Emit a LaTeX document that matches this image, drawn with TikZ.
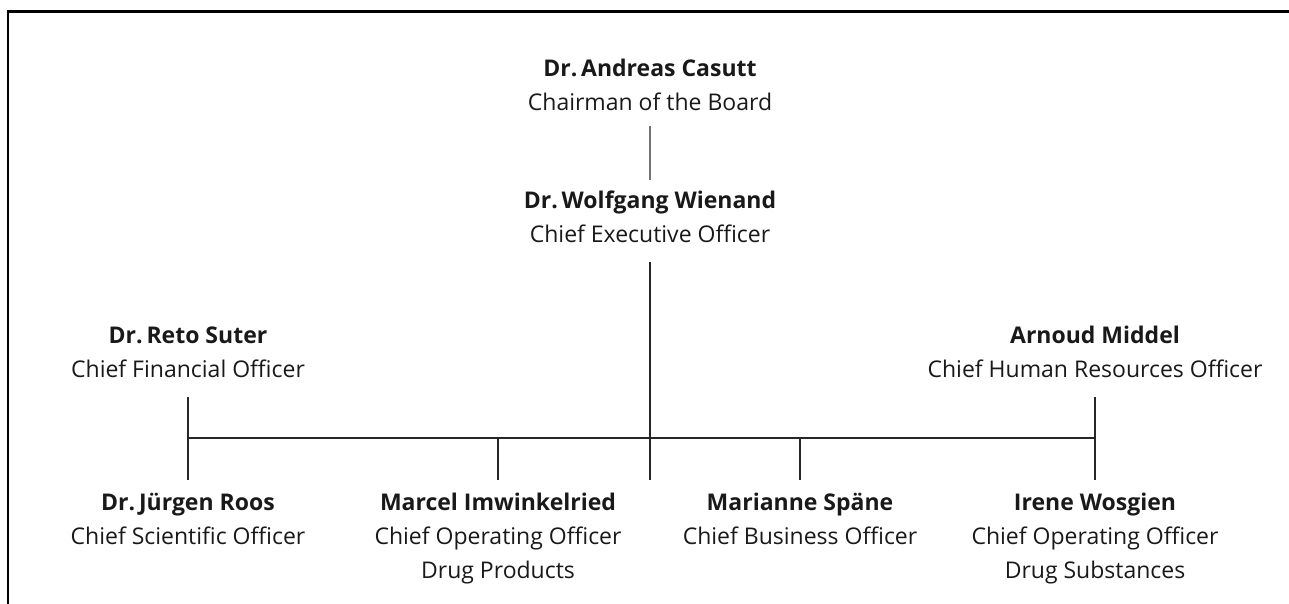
\documentclass[tikz,border=0pt]{standalone}
\usepackage{fontspec}
\setmainfont{Open Sans}
\begin{document}
\begin{tikzpicture}[x=1pt,y=-1pt,
  person/.style={inner sep=0pt,outer sep=0pt,anchor=base,text=black!90,
    font=\fontsize{23}{34}\selectfont},
  link/.style={draw=black!85,line width=1.3pt},
  softlink/.style={draw=black!55,line width=1.3pt},
  frame/.style={draw=black,line width=2.7pt}]
\useasboundingbox (0,0) rectangle (1289,604);
\newcommand{\pp}[2]{\begin{tabular}[t]{@{}c@{}}\textbf{#1}\\#2\end{tabular}}
\draw[frame] (8,604) -- (8,11.3) -- (1289,11.3);

\node[person] (casutt) at (650,77) {\pp{Dr.\,Andreas Casutt}{Chairman of the Board}};
\node[person] (wienand) at (650,208) {\pp{Dr.\,Wolfgang Wienand}{Chief Executive Officer}};
\node[person] (suter) at (188,343) {\pp{Dr.\,Reto Suter}{Chief Financial Officer}};
\node[person] (middel) at (1095,343) {\pp{Arnoud Middel}{Chief Human Resources Officer}};
\node[person] (roos) at (188,510) {\pp{Dr.\,Jürgen Roos}{Chief Scientific Officer}};
\node[person] (imwink) at (498,510) {\pp{Marcel Imwinkelried}{Chief Operating Officer\\Drug Products}};
\node[person] (spaene) at (800,510) {\pp{Marianne Späne}{Chief Business Officer}};
\node[person] (wosgien) at (1095,510) {\pp{Irene Wosgien}{Chief Operating Officer\\Drug Substances}};

\coordinate (bar) at (650,438);
\draw[softlink] (casutt.south |- 0,126) -- (wienand.north |- 0,180);
\draw[link] (wienand.south |- 0,262) -- (wienand.south |- 0,480);
\draw[link] (suter.south |- 0,397) -- (roos.north |- 0,480);
\draw[link] (middel.south |- 0,397) -- (wosgien.north |- 0,480);
\draw[link] (suter.south |- bar) -- (middel.south |- bar);
\draw[link] (imwink.north |- bar) -- (imwink.north |- 0,480);
\draw[link] (spaene.north |- bar) -- (spaene.north |- 0,480);
\end{tikzpicture}
\end{document}
